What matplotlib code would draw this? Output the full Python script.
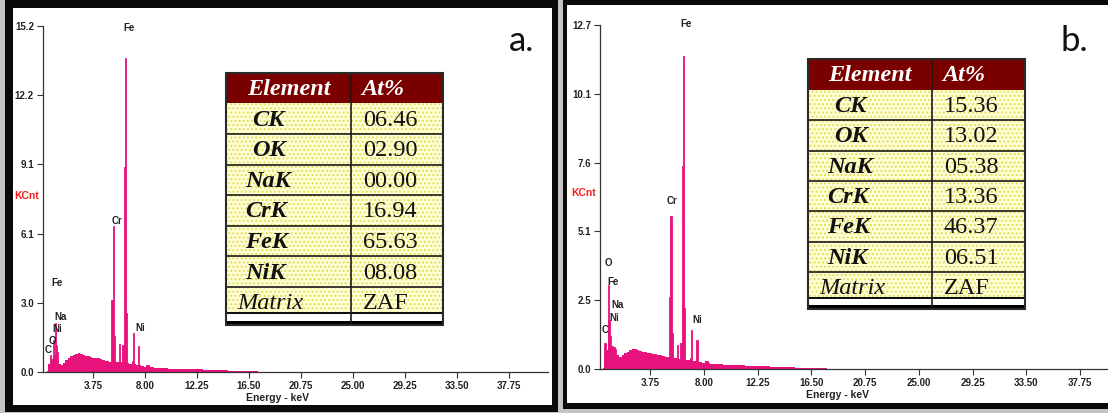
import matplotlib
matplotlib.use("Agg")
import matplotlib.pyplot as plt
from matplotlib.patches import Rectangle

W, H = 1108, 413

# ---------------- data ----------------
x_ticks = [3.75, 8.00, 12.25, 16.50, 20.75, 25.00, 29.25, 33.50, 37.75]

# panel a spectrum: continuum (keV, KCnt) and peak channels
bg_energy_a = [0.0, 0.2, 0.4, 0.6, 0.8, 1.0, 1.2, 1.4, 1.6, 1.8, 2.0, 2.2, 2.4, 2.6, 2.8,
               3.0, 3.2, 3.4, 3.6, 3.8, 4.0, 4.2, 4.4, 4.6, 4.8, 5.0, 5.2, 5.4, 5.6, 5.8,
               6.0, 6.2, 6.4, 6.6, 6.8, 7.0, 7.2, 7.4, 7.6, 7.8, 8.0, 8.2, 8.4, 8.6, 8.8,
               9.0, 9.2, 9.4, 9.6, 9.8, 10.0, 10.5, 11.0, 11.5, 12.0, 12.5, 13.0, 13.5,
               14.0, 14.5, 15.0, 15.5, 16.0, 16.5, 17.0, 17.5, 18.0]
bg_counts_a = [0.05, 0.35, 0.55, 0.75, 0.60, 0.35, 0.30, 0.40, 0.52, 0.60, 0.70, 0.74, 0.80, 0.83, 0.78,
               0.75, 0.72, 0.70, 0.67, 0.63, 0.61, 0.60, 0.56, 0.53, 0.50, 0.49, 0.46, 0.45, 0.44, 0.43,
               0.42, 0.41, 0.40, 0.38, 0.37, 0.35, 0.34, 0.32, 0.30, 0.27, 0.24, 0.30, 0.22, 0.20, 0.19,
               0.18, 0.18, 0.17, 0.16, 0.16, 0.15, 0.14, 0.13, 0.12, 0.12, 0.11, 0.10, 0.09,
               0.08, 0.07, 0.06, 0.05, 0.05, 0.04, 0.03, 0.02, 0.0]
peak_energy_a = [0.28, 0.52, 0.70, 0.78, 0.86, 5.31, 5.41, 5.51, 5.95, 6.20, 6.30, 6.40, 6.50,
                 6.96, 7.06, 7.47, 8.26]
peak_counts_a = [0.75, 1.40, 2.15, 1.20, 0.90, 3.15, 6.40, 1.58, 1.23, 1.20, 9.00, 13.80, 2.60,
                 0.50, 1.70, 1.15, 0.30]
label_text_a = ["Fe", "Cr", "Fe", "Na", "Ni", "O", "C", "Ni"]
label_kev_a = [6.73, 5.69, 0.79, 1.12, 0.82, 0.42, 0.08, 7.65]
label_cnt_a = [15.1, 6.63, 3.90, 2.43, 1.88, 1.36, 0.98, 1.92]
yfull_a = 15.2
ytick_labels_a = ["0.0", "3.0", "6.1", "9.1", "12.2", "15.2"]

# panel b spectrum
bg_energy_b = bg_energy_a
bg_counts_b = [0.05, 0.40, 0.70, 0.85, 0.75, 0.60, 0.50, 0.45, 0.50, 0.58, 0.62, 0.70, 0.75, 0.72, 0.70,
               0.66, 0.64, 0.62, 0.60, 0.58, 0.56, 0.54, 0.52, 0.50, 0.47, 0.45, 0.44, 0.42, 0.40, 0.40,
               0.38, 0.37, 0.36, 0.34, 0.33, 0.32, 0.30, 0.29, 0.27, 0.25, 0.22, 0.30, 0.21, 0.20, 0.19,
               0.18, 0.17, 0.17, 0.16, 0.15, 0.15, 0.14, 0.13, 0.12, 0.11, 0.11, 0.10, 0.09,
               0.08, 0.07, 0.06, 0.05, 0.05, 0.04, 0.03, 0.02, 0.0]
peak_energy_b = [0.19, 0.45, 0.52, 0.62, 0.75, 0.90, 1.04, 5.31, 5.41, 5.50, 5.95, 6.20, 6.30, 6.40,
                 6.50, 6.93, 7.06, 7.47, 8.26]
peak_counts_b = [0.95, 3.10, 1.80, 1.20, 0.85, 0.80, 0.75, 2.67, 5.65, 1.32, 0.90, 0.96, 7.47, 11.53,
                 2.24, 0.40, 1.44, 1.07, 0.30]
label_text_b = ["Fe", "Cr", "O", "Fe", "Na", "Ni", "C", "Ni"]
label_kev_b = [6.57, 5.51, 0.48, 0.85, 1.19, 0.90, 0.21, 7.49]
label_cnt_b = [12.7, 6.18, 3.90, 3.22, 2.36, 1.87, 1.44, 1.81]
yfull_b = 12.68
ytick_labels_b = ["0.0", "2.5", "5.1", "7.6", "10.1", "12.7"]

# tables
table_elements = ["CK", "OK", "NaK", "CrK", "FeK", "NiK", "Matrix"]
table_header = ["Element", "At%"]
at_a = ["06.46", "02.90", "00.00", "16.94", "65.63", "08.08", "ZAF"]
at_b = ["15.36", "13.02", "05.38", "13.36", "46.37", "06.51", "ZAF"]

# ---------------- style ----------------
PINK = "#E8127C"
TICKFONT = dict(family="Liberation Sans", weight="bold", size=7, color="#222222")

fig = plt.figure(figsize=(W / 100, H / 100), dpi=100)
fig.patch.set_facecolor("white")


def px_axes(left, top, width, height, **kw):
    return fig.add_axes([left / W, (H - top - height) / H, width / W, height / H], **kw)


def spectrum(ax, xlim, yfull, ylabels, bgE, bgC, pE, pC, lt, lx, ly):
    ax.set_facecolor("none")
    ax.fill_between(bgE, bgC, step="mid", color=PINK, lw=0)
    ax.bar(pE, pC, width=0.1, color=PINK, edgecolor=PINK, lw=0.6)
    ax.set_xlim(*xlim)
    ax.set_ylim(0, yfull)
    ax.spines["top"].set_visible(False)
    ax.spines["right"].set_visible(False)
    for s in ("left", "bottom"):
        ax.spines[s].set_color("#333333")
        ax.spines[s].set_linewidth(0.9)
    ax.set_xticks(x_ticks)
    ax.set_xticklabels([f"{v:.2f}" for v in x_ticks], fontdict=TICKFONT)
    ax.set_yticks([yfull * i / 5 for i in range(6)])
    ax.set_yticklabels(ylabels, fontdict=TICKFONT)
    ax.tick_params(direction="out", length=4.3, width=0.8, color="#333333", pad=2.2)
    for t, x, y in zip(lt, lx, ly):
        ax.text(x, y, t, ha="center", va="center", family="Liberation Sans",
                weight="bold", size=7, color="#222222", clip_on=False)


# panel a axes
ax_a = px_axes(43, 26, 505.4, 346)
spectrum(ax_a, (-0.33, 40.96), yfull_a, ytick_labels_a, bg_energy_a, bg_counts_a,
         peak_energy_a, peak_counts_a, label_text_a, label_kev_a, label_cnt_a)
# panel b axes
ax_b = px_axes(600, 25, 520.7, 344)
spectrum(ax_b, (-0.2, 40.96), yfull_b, ytick_labels_b, bg_energy_b, bg_counts_b,
         peak_energy_b, peak_counts_b, label_text_b, label_kev_b, label_cnt_b)

# overlay in pixel coordinates
ov = fig.add_axes([0, 0, 1, 1], zorder=10)
ov.set_xlim(0, W)
ov.set_ylim(H, 0)
ov.axis("off")
ov.set_facecolor("none")

# axis titles
for x, y in ((27, 196), (584, 193)):
    ov.text(x, y, "KCnt", ha="center", va="center", family="Liberation Sans",
            weight="bold", size=7.5, color="#FF1A1A")
for x, y in ((277, 398), (838, 395)):
    ov.text(x, y, "Energy - keV", ha="center", va="center", family="Liberation Sans",
            weight="bold", size=7.5, color="#222222")


def rect(x0, y0, x1, y1, color, **kw):
    ov.add_patch(Rectangle((x0, y0), x1 - x0, y1 - y0, facecolor=color, edgecolor="none", **kw))


# frames
rect(0, 0, 5, H, "#C4C4C4")
rect(558, 0, 563, H, "#C4C4C4")
rect(563, 409, W, H, "#C4C4C4")
rect(0, 412, 563, H, "#C4C4C4")
rect(5, 0, 13, 412, "#0a0a0a")
rect(5, 0, 558, 8, "#0a0a0a")
rect(552, 0, 558, 412, "#0a0a0a")
rect(5, 405, 558, 412, "#0a0a0a")
rect(563, 0, W, 5, "#0a0a0a")
rect(563, 0, 567, 409, "#0a0a0a")
rect(563, 403, W, 409, "#0a0a0a")

ov.text(522, 51, "a.", ha="center", va="baseline", family="Lato", size=25, color="#111111")
ov.text(1074, 51, "b.", ha="center", va="baseline", family="Lato", size=25, color="#111111")


def table(left, top, split, right, hbot, rowh, thin, gap_top, thick_top, bottom, values):
    rect(left, top, right, hbot, "#7A0000")
    ov.add_patch(Rectangle((left, hbot), right - left, thin - hbot, facecolor="#FFFFD6",
                           edgecolor="#E4DC5C", hatch="....", lw=0))
    serif = "Liberation Serif"
    ov.text((left + split) / 2, (top + hbot) / 2 + 1, table_header[0], ha="center", va="center",
            family=serif, style="italic", weight="bold", size=17.5, color="white")
    ov.text(split + 10, (top + hbot) / 2 + 1, table_header[1], ha="left", va="center",
            family=serif, style="italic", weight="bold", size=17.5, color="white")
    for i, (el, val) in enumerate(zip(table_elements, values)):
        yc = hbot + (i + 0.5) * rowh + 1.5
        if el in ("CK", "OK"):
            xo, wt = 26, "bold"
        elif el == "Matrix":
            xo, wt = 11, "normal"
        else:
            xo, wt = 19, "bold"
        ov.text(left + xo, yc, el, ha="left", va="center", family=serif, style="italic",
                weight=wt, size=17.5, color="#111111")
        ov.text(split + 12, yc, val, ha="left", va="center", family=serif, size=17.5,
                color="#111111")
    for i in range(1, 7):
        y = hbot + i * rowh
        ov.plot([left, right], [y, y], color="#1a1a1a", lw=1.2)
    rect(left, thin, right, gap_top, "#111111", zorder=3)
    rect(left, gap_top, right, thick_top, "white", zorder=3)
    rect(left, thick_top, right, bottom, "#000000", zorder=3)
    ov.plot([split, split], [top, bottom], color="#1a1a1a", lw=1.2, zorder=4)
    ov.add_patch(Rectangle((left, top), right - left, bottom - top, fill=False,
                           edgecolor="#2a2a2a", lw=1.5, zorder=4))


table(226, 73, 351, 443, 103.3, 30.6, 311.7, 314.2, 321, 325, at_a)
table(808, 59, 932, 1025, 90, 30.3, 296.7, 299.3, 305, 309.3, at_b)

fig.savefig("out.png", dpi=100, facecolor=fig.get_facecolor())
